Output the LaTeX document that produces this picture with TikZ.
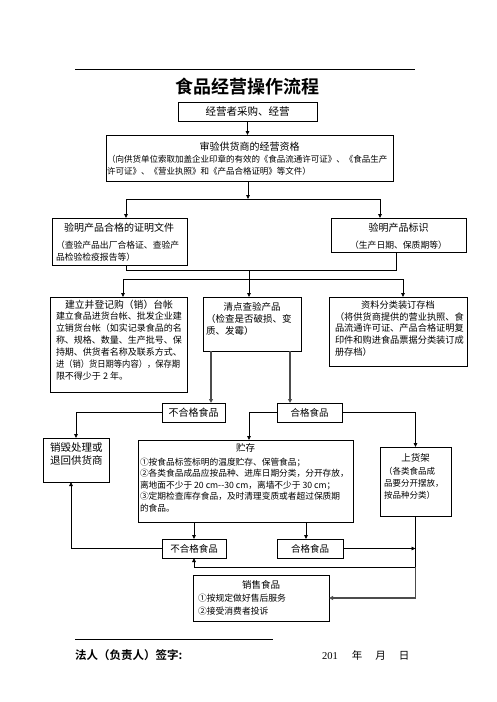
\documentclass[tikz,border=0pt]{standalone}
\usepackage{fontspec}
\setmainfont{Noto Sans CJK SC}[BoldFont={Noto Sans CJK SC Bold}]
\newfontfamily\numserif{Liberation Serif}
\usetikzlibrary{arrows.meta}
\newcommand\fsz[2]{\fontsize{#1}{#2}\selectfont}
\tikzset{
  box/.style={draw, line width=0.8pt, inner sep=0pt, outer sep=0pt, anchor=north west},
  lbl/.style={draw, line width=0.8pt, inner sep=0pt, outer sep=0pt, anchor=north west, font=\fsz{9.5}{11}},
  ln/.style={line width=0.8pt},
  arr/.style={line width=0.8pt, -{Triangle[length=4pt,width=3.6pt]}},
  garr/.style={line width=1.3pt, draw=black!70, -{Triangle[length=4pt,width=3.8pt]}},
  txt/.style={inner sep=0pt, outer sep=0pt, align=left, anchor=north west},
  ttl/.style={inner sep=0pt, outer sep=0pt},
}
\begin{document}
\begin{tikzpicture}[x=1pt,y=-1pt]
\useasboundingbox (0,0) rectangle (496,702);
% header
\draw[ln] (75,69) -- (415,69);
\node[ttl, font=\bfseries\fsz{18}{20}] (title) at (247.5,87) {食品经营操作流程};
% boxes
\node[box, minimum width=139pt, minimum height=19pt, font=\fsz{10.5}{12}] (b1) at (178,102) {经营者采购、经营};
\node[box, minimum width=287pt, minimum height=46pt] (b2) at (106,135) {};
\node[box, minimum width=135pt, minimum height=47pt] (b3) at (52,218) {};
\node[box, minimum width=135pt, minimum height=34pt] (b4) at (331,218) {};
\node[box, minimum width=137pt, minimum height=95pt] (b5) at (50,297) {};
\node[box, minimum width=98pt, minimum height=54pt] (b6) at (203,297) {};
\node[box, minimum width=138pt, minimum height=69pt] (b7) at (329,297) {};
\node[lbl, minimum width=63pt, minimum height=19pt, font=\fsz{10}{11}] (A) at (162,403) {不合格食品};
\node[lbl, minimum width=65pt, minimum height=19pt] (B) at (277,403) {合格食品};
\node[box, minimum width=66pt, minimum height=44pt] (C) at (43,438) {};
\node[box, minimum width=215pt, minimum height=82pt] (D) at (138,440) {};
\node[box, minimum width=71pt, minimum height=69pt] (E) at (380,447) {};
\node[lbl, minimum width=64pt, minimum height=19pt] (F) at (162,539) {不合格食品};
\node[lbl, minimum width=66pt, minimum height=19pt] (G) at (277,539) {合格食品};
\node[box, minimum width=136pt, minimum height=46pt] (H) at (193,575) {};
% texts
\node[ttl, font=\fsz{10}{12}] (t2) at (249.5,147) {审验供货商的经营资格};
\node[txt, font=\fsz{8.5}{12}] (x2) at (107,154.8) {（向供货单位索取加盖企业印章的有效的《食品流通许可证》、《食品生产\\许可证》、《营业执照》和《产品合格证明》等文件）};
\node[ttl, font=\fsz{10}{12}] (t3) at (119,228) {验明产品合格的证明文件};
\node[txt, font=\fsz{8.8}{12}] (x3) at (56,240.6) {（查验产品出厂合格证、查验产\\品检验检疫报告等）};
\node[ttl, font=\fsz{10}{12}] (t4) at (398.5,228) {验明产品标识};
\node[ttl, font=\fsz{8.8}{12}] (x4) at (398.5,245) {（生产日期、保质期等）};
\node[ttl, font=\fsz{9.8}{12}] (t5) at (119,305) {建立并登记购（销）台帐};
\node[txt, font=\fsz{9}{12}] (x5) at (56,311.5) {建立食品进货台帐、批发企业建\\立销货台帐（如实记录食品的名\\称、规格、数量、生产批号、保\\持期、供货者名称及联系方式、\\\scalebox{0.92}[1]{进（销）货日期等内容），保存期}\\限不得少于 2 年。};
\node[ttl, font=\fsz{9.5}{12}] (t6) at (252,307) {清点查验产品};
\node[txt, font=\fsz{9.5}{12.5}] (x6) at (206,314.2) {（检查是否破损、变\\质、发霉）};
\node[ttl, font=\fsz{9.2}{12}] (t7) at (398,305) {资料分类装订存档};
\node[txt, font=\fsz{9.2}{11.7}] (x7) at (335,312.4) {（将供货商提供的营业执照、食\\品流通许可证、产品合格证明复\\印件和购进食品票据分类装订成\\册存档）};
\node[txt, font=\fsz{10.5}{13}] (xc) at (50,442.8) {销毁处理或\\退回供货商};
\node[ttl, font=\fsz{9.5}{12}] (td) at (245.5,447.5) {贮存};
\node[txt, font=\fsz{8.7}{11.6}] (xd) at (140,457.8) {①按食品标签标明的温度贮存、保管食品；\\②各类食品成品应按品种、进库日期分类，分开存放，\\离地面不少于 20 cm-{}-30 cm，离墙不少于 30 cm；\\③定期检查库存食品，及时清理变质或者超过保质期\\的食品。};
\node[ttl, font=\fsz{9.5}{12}] (te) at (415.5,457.5) {上货架};
\node[txt, font=\fsz{8.5}{12}] (xe) at (384,467.7) {（各类食品成\\品要分开摆放，\\按品种分类）};
\node[ttl, font=\fsz{9.5}{12}] (th) at (261,585) {销售食品};
\node[txt, font=\fsz{8.8}{13}] (xh) at (198,593.6) {①按规定做好售后服务\\②接受消费者投诉};
% connectors
\coordinate (j1) at (248,199);
\coordinate (jl) at (126,199);
\coordinate (jr) at (380,199);
\coordinate (k1) at (126,270);
\coordinate (k2) at (396,270);
\coordinate (k3) at (249,270);
\coordinate (m1) at (123,279);
\coordinate (m2) at (403,279);
\coordinate (p1) at (211,351);
\coordinate (p2) at (290,351);
\coordinate (q1) at (249,412.5);
\coordinate (s1) at (415.5,567);
\draw[arr] (b1.south) -- (b1.south |- b2.north);
\draw[arr] (b2.south -| j1) -- (j1);
\draw[ln] (jl) -- (jr);
\draw[arr] (jl) -- (jl |- b3.north);
\draw[arr] (jr) -- (jr |- b4.north);
\draw[ln] (k1 |- b3.south) -- (k1) -- (k2) -- (k2 |- b4.south);
\draw[arr] (k3) -- (k3 |- b6.north);
\draw[ln] (m1) -- (m2);
\draw[arr] (m1) -- (m1 |- b5.north);
\draw[arr] (m2) -- (m2 |- b7.north);
\draw[garr] (p1) -- (p1 |- A.north);
\draw[garr] (p2) -- (p2 |- B.north);
\draw[arr] (A.west) -| (C.north);
\draw[arr] (B.west) -| (q1 |- D.north);
\draw[arr] (B.east) -| (E.north);
\draw[arr] (F.north |- D.south) -- (F.north);
\draw[arr] ([xshift=-4pt]G.north |- D.south) -- ([xshift=-4pt]G.north);
\draw[arr] (F.west) -| ([xshift=-5pt]C.south);
\draw[arr] (G.east) -- (G.east -| E.south);
\draw[ln] (E.south) -- (s1);
\draw[arr] (s1) -| (F.south);
\draw[garr] (s1) |- (H.east);
% footer
\draw[ln] (75,639) -- (273,639);
\node[ttl, anchor=west, font=\bfseries\fsz{11.5}{13}] (sig) at (75,655) {法人（负责人）签字:};
\node[ttl, anchor=west, font=\fsz{10.5}{12}] (date) at (322,655) {{\numserif 201}\hspace{14pt}年\hspace{13pt}月\hspace{13pt}日};
\end{tikzpicture}
\end{document}
